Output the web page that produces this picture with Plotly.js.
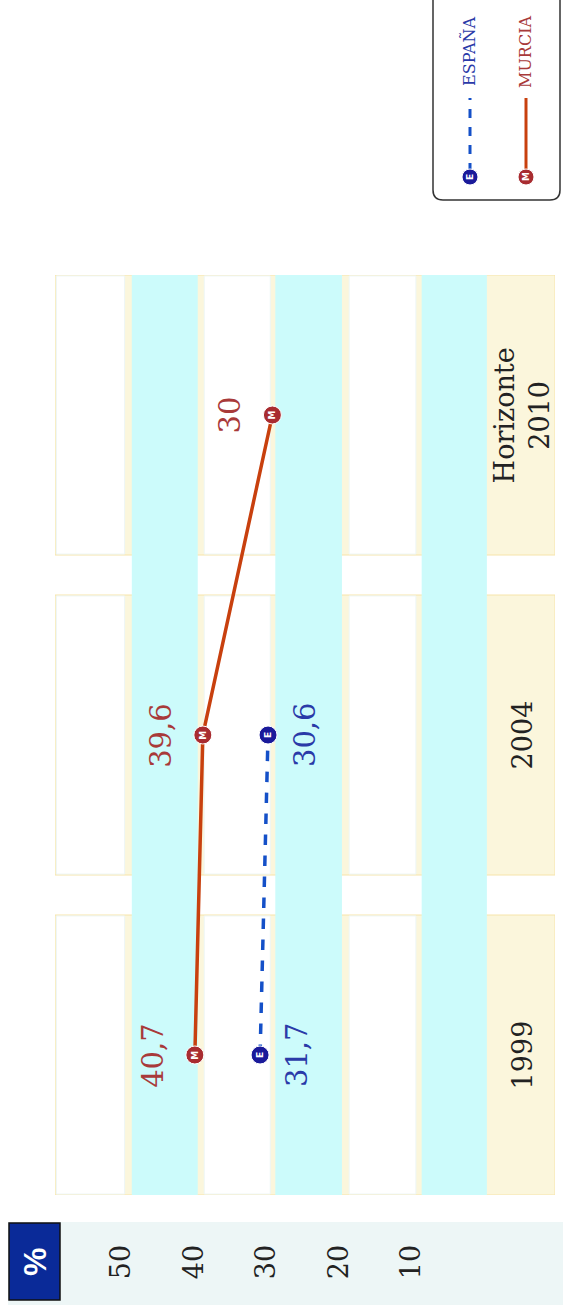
<!DOCTYPE html>
<html>
<head>
<meta charset="utf-8">
<script src="https://cdn.plot.ly/plotly-3.0.1.min.js"></script>
<style>
  body { margin: 0; background: #fff; }
  #chart { width: 563px; height: 1316px; }
</style>
</head>
<body>
<div id="chart"></div>
<script>
// Chart data
const categories = ['1999', '2004', 'Horizonte<br>2010'];
const espana = [31.7, 30.6, null];
const murcia = [40.7, 39.6, 30];
const tickValues = [10, 20, 30, 40, 50];
const tickLabels = ['10', '20', '30', '40', '50'];
const seriesNames = ['ESPAÑA', 'MURCIA'];
const seriesLetters = ['E', 'M'];

// Colors
const cyan = '#CCFBFB';
const beige = '#FBF6DC';
const beigeEdge = '#F6E4AA';
const blueLine = '#1450C8';
const blueMarker = '#1A1A9A';
const blueText = '#2A3AA8';
const redLine = '#C8400E';
const redMarker = '#A82C30';
const redText = '#A83A3A';

// Plot area in pixels (used to place the decorations outside the axes)
const plotL = 55, plotR = 555, plotT = 275, plotB = 1195;
function px(x) { return (x - plotL) / (plotR - plotL); }
function py(y) { return (plotB - y) / (plotB - plotT); }

function fmt(v) { return String(v).replace('.', ','); }

const half = 0.4375;
const shapes = [];

// Beige background of each category row
categories.forEach((c, i) => {
    shapes.push({
        type: 'rect', layer: 'below', xref: 'x', yref: 'y',
        x0: 60, x1: -9, y0: i - half, y1: i + half,
        fillcolor: beige, line: {color: beigeEdge, width: 1}
    });
});

// Cyan bands run the whole height
[[0.4, 9.4], [20.4, 29.6], [40.3, 49.4]].forEach(b => {
    shapes.push({
        type: 'rect', layer: 'below', xref: 'x', yref: 'y',
        x0: b[0], x1: b[1], y0: -half, y1: 2 + half,
        fillcolor: cyan, line: {width: 0}
    });
});

// White cells inside each row
categories.forEach((c, i) => {
    [[10.2, 19.4], [30.3, 39.4], [50.4, 59.8]].forEach(b => {
        shapes.push({
            type: 'rect', layer: 'below', xref: 'x', yref: 'y',
            x0: b[0], x1: b[1], y0: i - half + 0.003, y1: i + half - 0.003,
            fillcolor: '#FFFFFF', line: {color: '#EEF6F6', width: 1}
        });
    });
});

// Tick strip and % box
shapes.push({
    type: 'rect', xref: 'paper', yref: 'paper',
    x0: px(8), x1: px(563), y0: py(1305), y1: py(1222),
    fillcolor: '#EDF6F6', line: {width: 0}, layer: 'below'
});
shapes.push({
    type: 'rect', xref: 'paper', yref: 'paper',
    x0: px(9), x1: px(60), y0: py(1300), y1: py(1223),
    fillcolor: '#0A2A98', line: {color: '#111', width: 1.5}
});

// Legend box with rounded corners
function roundedRect(x0, y0, x1, y1, r) {
    const X = v => px(v), Y = v => py(v);
    return 'M' + X(x0 + r) + ',' + Y(y0) +
        ' L' + X(x1 - r) + ',' + Y(y0) +
        ' Q' + X(x1) + ',' + Y(y0) + ' ' + X(x1) + ',' + Y(y0 + r) +
        ' L' + X(x1) + ',' + Y(y1 - r) +
        ' Q' + X(x1) + ',' + Y(y1) + ' ' + X(x1 - r) + ',' + Y(y1) +
        ' L' + X(x0 + r) + ',' + Y(y1) +
        ' Q' + X(x0) + ',' + Y(y1) + ' ' + X(x0) + ',' + Y(y1 - r) +
        ' L' + X(x0) + ',' + Y(y0 + r) +
        ' Q' + X(x0) + ',' + Y(y0) + ' ' + X(x0 + r) + ',' + Y(y0) + ' Z';
}
shapes.push({
    type: 'path', xref: 'paper', yref: 'paper',
    path: roundedRect(433, -12, 560, 200, 10),
    fillcolor: '#FFFFFF', line: {color: '#333', width: 1.5}
});

const legendX = [470, 526];
const legendColors = [blueLine, redLine];
const legendMarker = [blueMarker, redMarker];
const legendText = [blueText, redText];
const legendDash = ['dash', 'solid'];

const annotations = [];

function paperText(x, y, text, font) {
    return {
        xref: 'paper', yref: 'paper', x: px(x), y: py(y),
        xanchor: 'center', yanchor: 'middle',
        text: text, showarrow: false, textangle: -90, font: font
    };
}

seriesNames.forEach((name, k) => {
    const lx = legendX[k];
    shapes.push({
        type: 'line', xref: 'paper', yref: 'paper',
        x0: px(lx), x1: px(lx), y0: py(172), y1: py(98),
        line: {color: legendColors[k], width: 3, dash: legendDash[k]}
    });
    shapes.push({
        type: 'circle', xref: 'paper', yref: 'paper',
        x0: px(lx - 8), x1: px(lx + 8), y0: py(185), y1: py(169),
        fillcolor: legendMarker[k], line: {color: '#FFFFFF', width: 1}
    });
    annotations.push(paperText(lx, 177, '<b>' + seriesLetters[k] + '</b>',
        {family: 'DejaVu Sans', size: 9, color: '#FFFFFF'}));
    annotations.push(paperText(lx - 1, 52, name,
        {family: 'DejaVu Serif', size: 16, color: legendText[k]}));
});

annotations.push(paperText(35, 1262, '<b>%</b>',
    {family: 'Liberation Sans', size: 32, color: '#FFFFFF'}));

// Category labels inside the beige column
categories.forEach((c, i) => {
    annotations.push({
        x: -4.5, y: i, xref: 'x', yref: 'y',
        text: c, showarrow: false, textangle: -90,
        font: {family: 'DejaVu Serif', size: 27, color: '#222'}
    });
});

// Value labels and marker letters
function addPointText(values, shift, color, letter) {
    values.forEach((v, i) => {
        if (v === null) return;
        annotations.push({
            x: v, y: i, xref: 'x', yref: 'y',
            xshift: shift, text: fmt(v), showarrow: false, textangle: -90,
            font: {family: 'DejaVu Serif', size: 29, color: color}
        });
        annotations.push({
            x: v, y: i, xref: 'x', yref: 'y',
            text: '<b>' + letter + '</b>', showarrow: false, textangle: -90,
            font: {family: 'DejaVu Sans', size: 9, color: '#FFFFFF'}
        });
    });
}
addPointText(murcia, -42, redText, 'M');
addPointText(espana, 37, blueText, 'E');

const traces = [
    {
        x: espana, y: categories, type: 'scatter', mode: 'lines+markers',
        name: seriesNames[0], connectgaps: false,
        line: {color: blueLine, width: 3.5, dash: 'dash'},
        marker: {color: blueMarker, size: 18, line: {color: '#FFFFFF', width: 1}}
    },
    {
        x: murcia, y: categories, type: 'scatter', mode: 'lines+markers',
        name: seriesNames[1],
        line: {color: redLine, width: 3.5},
        marker: {color: redMarker, size: 18, line: {color: '#FFFFFF', width: 1}}
    }
];

const layout = {
    width: 563,
    height: 1316,
    margin: {l: plotL, r: 563 - plotR, t: plotT, b: 1316 - plotB},
    paper_bgcolor: '#FFFFFF',
    plot_bgcolor: 'rgba(0,0,0,0)',
    showlegend: false,
    xaxis: {
        range: [60, -9],
        tickvals: tickValues,
        ticktext: tickLabels,
        tickangle: -90,
        ticks: 'outside',
        ticklen: 38,
        tickcolor: 'rgba(0,0,0,0)',
        ticklabelshift: 6,
        tickfont: {family: 'DejaVu Serif', size: 27, color: '#222'},
        showgrid: false,
        zeroline: false,
        showline: false,
        fixedrange: true
    },
    yaxis: {
        type: 'category',
        categoryarray: categories,
        range: [-half, 2 + half],
        showticklabels: false,
        showgrid: false,
        zeroline: false,
        showline: false,
        fixedrange: true
    },
    shapes: shapes,
    annotations: annotations
};

Plotly.newPlot('chart', traces, layout, {displayModeBar: false, staticPlot: true});
</script>
</body>
</html>
